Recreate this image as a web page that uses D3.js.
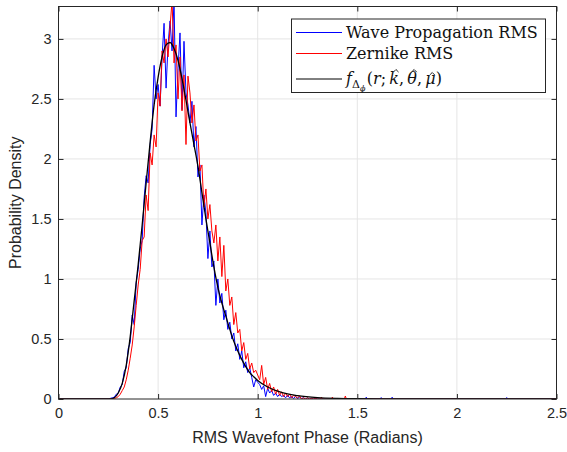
<!DOCTYPE html>
<html><head><meta charset="utf-8">
<script src="https://cdn.jsdelivr.net/npm/d3@7"></script>
<style>body{margin:0;background:#fff}svg{display:block}</style>
</head><body>
<svg id="chart" width="567" height="452"></svg>
<script>
const binX = [0,0.25,0.26,0.27,0.28,0.29,0.30,0.31,0.32,0.33,0.34,0.35,0.36,0.37,0.38,0.39,0.40,0.41,0.42,0.43,0.44,0.45,0.46,0.47,0.48,0.49,0.50,0.51,0.52,0.53,0.54,0.55,0.56,0.57,0.58,0.59,0.60,0.61,0.62,0.63,0.64,0.65,0.66,0.67,0.68,0.69,0.70,0.71,0.72,0.73,0.74,0.75,0.76,0.77,0.78,0.79,0.80,0.81,0.82,0.83,0.84,0.85,0.86,0.87,0.88,0.89,0.90,0.91,0.92,0.93,0.94,0.95,0.96,0.97,0.98,0.99,1.00,1.01,1.02,1.03,1.04,1.05,1.06,1.07,1.08,1.09,1.10,1.11,1.12,1.13,1.14,1.15,1.16,1.17,1.18,1.19,1.20,1.21,1.22,1.23,1.24,1.25,1.26,1.27,1.28,1.29,1.30];
const waveRMS = [0,0,0.005,0.01,0.015,0.04,0.05,0.10,0.12,0.23,0.26,0.42,0.47,0.70,0.62,0.97,1.08,1.25,1.32,1.68,1.86,1.80,2.12,2.25,2.78,2.50,2.62,2.44,2.85,3.13,2.59,2.95,3.15,2.90,3.32,2.35,2.75,3.05,2.41,2.98,2.55,2.45,2.30,2.48,2.10,2.27,1.85,1.95,1.45,1.70,1.55,1.17,1.40,1.10,1.15,0.78,1.00,0.80,0.88,0.66,0.74,0.58,0.64,0.50,0.55,0.40,0.46,0.33,0.40,0.26,0.31,0.22,0.26,0.18,0.10,0.16,0.14,0.12,0.08,0.11,0.02,0.09,0.05,0.07,0.03,0.05,0.02,0.04,0.02,0.03,0.01,0.03,0.01,0.02,0.005,0.02,0.005,0.015,0.005,0.01,0,0.008,0,0.005,0,0.005,0];
const zernikeRMS = [0,0,0,0,0.005,0.01,0.02,0.04,0.07,0.10,0.16,0.24,0.34,0.45,0.60,0.78,0.95,1.08,1.32,1.35,1.70,1.57,2.05,1.95,2.20,2.10,2.55,2.44,2.90,2.80,3.00,2.85,3.10,3.32,2.80,2.95,2.50,2.85,2.40,2.70,2.12,2.69,2.55,2.30,2.45,2.15,2.20,1.90,1.95,1.60,1.75,1.50,1.62,1.40,1.30,1.45,1.15,1.35,1.02,1.28,0.90,1.00,0.78,0.85,0.62,0.72,0.55,0.58,0.40,0.47,0.33,0.38,0.25,0.30,0.22,0.24,0.20,0.16,0.28,0.12,0.18,0.08,0.13,0.06,0.10,0.04,0.08,0.03,0.06,0.02,0.05,0.02,0.04,0.01,0.03,0.02,0.01,0.025,0,0.01,0,0.01,0,0.005,0,0.005,0];
const waveTailX = [1.54,1.545,1.55,1.615,1.62,1.625,1.67,1.675,1.68,2.245,2.25,2.255,2.5];
const waveTailY = [0,0.015,0,0,0.012,0,0,0.015,0,0,0.012,0,0];
const zernTailX = [1.315,1.32,1.325,1.37,1.375,1.38,1.435,1.44,1.445,2.5];
const zernTailY = [0,0.015,0,0,0.015,0,0,0.025,0,0];
const fitX = [0,0.26,0.28,0.30,0.32,0.34,0.36,0.38,0.40,0.42,0.44,0.46,0.48,0.50,0.52,0.54,0.56,0.58,0.60,0.62,0.64,0.66,0.68,0.70,0.72,0.74,0.76,0.78,0.80,0.82,0.84,0.86,0.88,0.90,0.92,0.94,0.96,0.98,1.00,1.05,1.10,1.15,1.20,1.30,1.40,1.50,1.60,2.5];
const fitY = [0,0,0.01,0.05,0.13,0.28,0.52,0.82,1.12,1.45,1.80,2.14,2.45,2.68,2.85,2.95,2.97,2.92,2.82,2.67,2.49,2.30,2.12,1.94,1.72,1.50,1.30,1.10,0.93,0.80,0.69,0.58,0.48,0.40,0.33,0.27,0.22,0.185,0.155,0.10,0.065,0.042,0.028,0.012,0.005,0.002,0.001,0];
const xTicks = [0,0.5,1,1.5,2,2.5];
const yTicks = [0,0.5,1,1.5,2,2.5,3];
const legendLabels = ["Wave Propagation RMS","Zernike RMS"];

const svg = d3.select("#chart");
const L = 58.5, R = 556.5, T = 6.5, B = 399;
const x = d3.scaleLinear().domain([0,2.5]).range([L,R]);
const y = d3.scaleLinear().domain([0,3.27]).range([B,T]);
const axisColor = "#262626";
const tickFont = "Liberation Sans, Arial, sans-serif";

const g = svg.append("g");
g.selectAll("line.gx").data(xTicks.slice(1,-1)).join("line")
  .attr("x1",d=>x(d)).attr("x2",d=>x(d)).attr("y1",B).attr("y2",T)
  .attr("stroke","#e5e5e5").attr("stroke-width",1);
g.selectAll("line.gy").data(yTicks.slice(1)).join("line")
  .attr("y1",d=>y(d)).attr("y2",d=>y(d)).attr("x1",L).attr("x2",R)
  .attr("stroke","#e5e5e5").attr("stroke-width",1);

svg.append("clipPath").attr("id","clip").append("rect")
  .attr("x",L).attr("y",T).attr("width",R-L).attr("height",B-T);

function series(xs, ys, tx, ty){
  const pts = xs.map((v,i)=>[v,ys[i]]);
  if(tx) tx.forEach((v,i)=>pts.push([v,ty[i]]));
  return pts;
}
const line = d3.line().x(d=>x(d[0])).y(d=>y(d[1]));
const smooth = d3.line().x(d=>x(d[0])).y(d=>y(d[1])).curve(d3.curveMonotoneX);
const plot = svg.append("g").attr("clip-path","url(#clip)");
plot.append("path").datum(series(binX,waveRMS,waveTailX,waveTailY))
  .attr("d",line).attr("fill","none").attr("stroke","#0000ff").attr("stroke-width",1);
plot.append("path").datum(series(binX,zernikeRMS,zernTailX,zernTailY))
  .attr("d",line).attr("fill","none").attr("stroke","#ff0000").attr("stroke-width",1);
plot.append("path").datum(series(fitX,fitY))
  .attr("d",smooth).attr("fill","none").attr("stroke","#000").attr("stroke-width",1.3);

const ax = svg.append("g").attr("transform",`translate(0,${B})`)
  .call(d3.axisBottom(x).tickValues(xTicks).tickSizeInner(-5).tickSizeOuter(0).tickPadding(9).tickFormat(d3.format("~g")));
const ay = svg.append("g").attr("transform",`translate(${L},0)`)
  .call(d3.axisLeft(y).tickValues(yTicks).tickSizeInner(-5).tickSizeOuter(0).tickPadding(7).tickFormat(d3.format("~g")));
const axT = svg.append("g").attr("transform",`translate(0,${T})`)
  .call(d3.axisTop(x).tickValues(xTicks).tickSizeInner(-5).tickSizeOuter(0).tickFormat(""));
const ayR = svg.append("g").attr("transform",`translate(${R},0)`)
  .call(d3.axisRight(y).tickValues(yTicks).tickSizeInner(-5).tickSizeOuter(0).tickFormat(""));
[ax,ay,axT,ayR].forEach(a=>{
  a.select(".domain").remove();
  a.selectAll("line").attr("stroke",axisColor);
  a.selectAll("text").attr("fill",axisColor).style("font-family",tickFont).style("font-size","14.5px");
});
svg.append("rect").attr("x",L).attr("y",T).attr("width",R-L).attr("height",B-T)
  .attr("fill","none").attr("stroke",axisColor).attr("stroke-width",1);

svg.append("text").attr("x",(L+R)/2).attr("y",443).attr("text-anchor","middle")
  .attr("fill",axisColor).style("font-family",tickFont).style("font-size","16px")
  .text("RMS Wavefont Phase (Radians)");
svg.append("text").attr("transform",`translate(21,${(T+B)/2}) rotate(-90)`).attr("text-anchor","middle")
  .attr("fill",axisColor).style("font-family",tickFont).style("font-size","16px")
  .text("Probability Density");

// legend
const lg = svg.append("g");
lg.append("rect").attr("x",291.5).attr("y",19).attr("width",254).attr("height",73.5)
  .attr("fill","#fff").attr("stroke",axisColor).attr("stroke-width",1);
const colors = ["#0000ff","#ff0000","#000"];
const rowY = [32.5,53.5,79];
colors.forEach((c,i)=>{
  lg.append("line").attr("x1",296).attr("x2",342).attr("y1",rowY[i]).attr("y2",rowY[i])
    .attr("stroke",c).attr("stroke-width",1);
});
const serif = "DejaVu Serif, serif";
legendLabels.forEach((t,i)=>{
  lg.append("text").attr("x",346).attr("y",rowY[i]+5.5).attr("fill","#111")
    .style("font-family",serif).style("font-size","16px").text(t);
});
const baseY = rowY[2]+5;
const mt = lg.append("text").attr("x",346).attr("y",baseY).attr("fill","#111")
  .style("font-family",serif).style("font-size","16px");
const parts = [
  {t:"f", it:true},
  {t:"Δ", size:"11px", dy:4},
  {t:"ϕ", size:"8px", dy:2.5, it:true},
  {t:"(", dy:-6.5, dx:1.5},
  {t:"r", it:true},
  {t:";\u2009"},
  {t:"k", it:true, hat:13.5},
  {t:",\u2009"},
  {t:"θ", it:true, hat:13.5},
  {t:",\u2009"},
  {t:"μ", it:true, hat:10.5},
  {t:")"}
];
const hats = [];
parts.forEach(p=>{
  const s = mt.append("tspan").text(p.t);
  if(p.it) s.style("font-style","italic");
  if(p.size) s.style("font-size",p.size);
  if(p.dy) s.attr("dy",p.dy);
  if(p.dx) s.attr("dx",p.dx);
  if(p.hat) hats.push([s,p.hat]);
});
hats.forEach(([s,h])=>{
  const bb = s.node().getBBox();
  const cx = bb.x + bb.width/2 + 1.8, cy = baseY - h;
  lg.append("path").attr("d",`M${cx-2.6},${cy+1.6}L${cx},${cy-1}L${cx+2.6},${cy+1.6}`)
    .attr("fill","none").attr("stroke","#111").attr("stroke-width",0.9);
});
</script>
</body></html>
